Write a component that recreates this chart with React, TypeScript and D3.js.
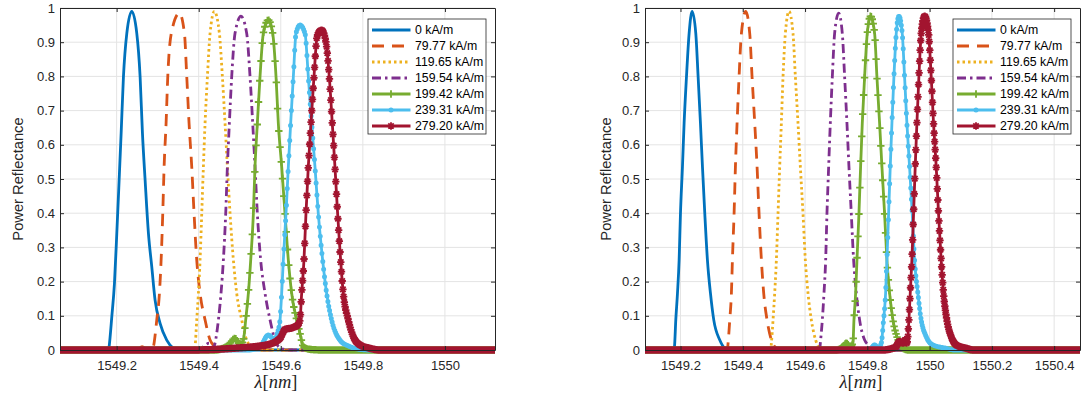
import * as d3 from "d3";
import { useEffect, useRef } from "react";

type Pt = [number, number];

const labels = ["0 kA/m", "79.77 kA/m", "119.65 kA/m", "159.54 kA/m", "199.42 kA/m", "239.31 kA/m", "279.20 kA/m"];
const colors = ["#0072BD", "#D95319", "#EDB120", "#7E2F8E", "#77AC30", "#4DBEEE", "#A2142F"];
const dashes = [null, "12,8", "2.5,3", "9,4,2.5,4", null, null, null];
const markerKinds = [null, null, null, null, "plus", "dot", "star"];
const markerStep = [0, 0, 0, 0, 0.003, 0.002, 0.0017]; // nm between markers

const yTicks = [0, 0.1, 0.2, 0.3, 0.4, 0.5, 0.6, 0.7, 0.8, 0.9, 1];
const xTicksA = [1549.2, 1549.4, 1549.6, 1549.8, 1550];
const xTicksB = [1549.2, 1549.4, 1549.6, 1549.8, 1550, 1550.2, 1550.4];

// left panel
const a0: Pt[] = [[1549.06, 0], [1549.17, 0], [1549.1805, 0], [1549.1817, 0.01], [1549.1882, 0.097], [1549.1947, 0.195], [1549.2004, 0.341], [1549.2061, 0.497], [1549.211, 0.634], [1549.2166, 0.799], [1549.2248, 0.926], [1549.2369, 0.99], [1549.2491, 0.926], [1549.2572, 0.799], [1549.2629, 0.634], [1549.2694, 0.497], [1549.2775, 0.341], [1549.2856, 0.244], [1549.2937, 0.146], [1549.3059, 0.078], [1549.3221, 0.029], [1549.3384, 0.005], [1549.35, 0], [1550.13, 0]];
const a1: Pt[] = [[1549.06, 0], [1549.25, 0], [1549.262, 0.01], [1549.275, 0], [1549.286, 0], [1549.2897, 0.01], [1549.2978, 0.088], [1549.3043, 0.166], [1549.3084, 0.263], [1549.3124, 0.399], [1549.3157, 0.536], [1549.3205, 0.663], [1549.3246, 0.799], [1549.3332, 0.926], [1549.353, 0.985], [1549.3652, 0.926], [1549.3709, 0.799], [1549.3765, 0.663], [1549.383, 0.536], [1549.3887, 0.399], [1549.3952, 0.263], [1549.4033, 0.166], [1549.4155, 0.088], [1549.4277, 0.029], [1549.4398, 0.01], [1549.45, 0], [1550.13, 0]];
const a2: Pt[] = [[1549.06, 0], [1549.37, 0], [1549.38, 0.005], [1549.389, 0], [1549.3911, 0.01], [1549.3952, 0.088], [1549.3993, 0.166], [1549.4033, 0.263], [1549.4074, 0.399], [1549.4114, 0.536], [1549.4155, 0.663], [1549.4212, 0.799], [1549.4277, 0.926], [1549.4382, 0.99], [1549.4504, 0.926], [1549.4577, 0.799], [1549.4642, 0.663], [1549.4699, 0.536], [1549.4764, 0.399], [1549.4845, 0.263], [1549.4926, 0.166], [1549.5048, 0.088], [1549.517, 0.029], [1549.5332, 0.005], [1549.545, 0], [1550.13, 0]];
const a3: Pt[] = [[1549.06, 0], [1549.4, 0], [1549.41, 0.008], [1549.425, 0.02], [1549.436, 0.005], [1549.4398, 0.02], [1549.448, 0.088], [1549.4544, 0.166], [1549.4601, 0.263], [1549.4658, 0.399], [1549.4699, 0.536], [1549.4747, 0.663], [1549.4804, 0.799], [1549.4885, 0.926], [1549.5031, 0.976], [1549.5169, 0.926], [1549.5251, 0.799], [1549.5316, 0.663], [1549.5372, 0.536], [1549.5429, 0.399], [1549.551, 0.263], [1549.5616, 0.166], [1549.5738, 0.088], [1549.5859, 0.029], [1549.6, 0.005], [1549.62, 0], [1550.13, 0]];
const a4: Pt[] = [[1549.06, 0], [1549.44, 0], [1549.47, 0.012], [1549.4885, 0.034], [1549.5007, 0.015], [1549.5088, 0.029], [1549.5145, 0.088], [1549.521, 0.166], [1549.5267, 0.263], [1549.5332, 0.399], [1549.5372, 0.536], [1549.5429, 0.663], [1549.5494, 0.799], [1549.5575, 0.926], [1549.5697, 0.965], [1549.5803, 0.926], [1549.5884, 0.799], [1549.594, 0.663], [1549.6022, 0.536], [1549.6103, 0.399], [1549.6184, 0.263], [1549.6265, 0.166], [1549.6387, 0.088], [1549.6468, 0.049], [1549.6549, 0.01], [1549.67, 0.002], [1549.7, 0], [1550.13, 0]];
const a5: Pt[] = [[1549.06, 0], [1549.52, 0], [1549.5494, 0.01], [1549.5697, 0.044], [1549.5859, 0.029], [1549.5916, 0.049], [1549.5981, 0.088], [1549.6022, 0.166], [1549.6062, 0.263], [1549.6127, 0.399], [1549.6184, 0.536], [1549.6241, 0.663], [1549.6306, 0.799], [1549.6371, 0.926], [1549.6468, 0.95], [1549.659, 0.926], [1549.6671, 0.799], [1549.6752, 0.663], [1549.6833, 0.536], [1549.6914, 0.399], [1549.702, 0.263], [1549.7117, 0.166], [1549.7239, 0.088], [1549.7442, 0.029], [1549.7685, 0.01], [1549.7929, 0.002], [1549.82, 0], [1550.13, 0]];
const a6: Pt[] = [[1549.06, 0], [1549.38, 0], [1549.4845, 0.005], [1549.5656, 0.015], [1549.5981, 0.034], [1549.6103, 0.06], [1549.6306, 0.066], [1549.6427, 0.075], [1549.6468, 0.088], [1549.6509, 0.166], [1549.6565, 0.263], [1549.6614, 0.399], [1549.6671, 0.536], [1549.6736, 0.663], [1549.6809, 0.799], [1549.689, 0.92], [1549.6996, 0.935], [1549.7101, 0.9], [1549.7182, 0.799], [1549.7255, 0.663], [1549.732, 0.536], [1549.7385, 0.399], [1549.7458, 0.263], [1549.7523, 0.166], [1549.7645, 0.088], [1549.7767, 0.039], [1549.7929, 0.015], [1549.8172, 0.005], [1549.84, 0], [1550.13, 0]];

// right panel
const b0: Pt[] = [[1549.08, 0], [1549.15, 0], [1549.175, 0.003], [1549.179, 0], [1549.1807, 0.01], [1549.1849, 0.088], [1549.1903, 0.166], [1549.1956, 0.263], [1549.1999, 0.399], [1549.2063, 0.536], [1549.2116, 0.663], [1549.2192, 0.799], [1549.2277, 0.926], [1549.2373, 0.99], [1549.2491, 0.926], [1549.2566, 0.799], [1549.2641, 0.663], [1549.2705, 0.536], [1549.278, 0.399], [1549.2865, 0.263], [1549.2962, 0.166], [1549.3068, 0.088], [1549.3261, 0.029], [1549.3421, 0.005], [1549.355, 0], [1550.49, 0]];
const b1: Pt[] = [[1549.08, 0], [1549.34, 0], [1549.3505, 0], [1549.3528, 0.02], [1549.3582, 0.088], [1549.3635, 0.166], [1549.3667, 0.263], [1549.3721, 0.399], [1549.3764, 0.536], [1549.3817, 0.663], [1549.3881, 0.799], [1549.3956, 0.926], [1549.4095, 0.99], [1549.4223, 0.926], [1549.4298, 0.799], [1549.4384, 0.663], [1549.4459, 0.536], [1549.4523, 0.399], [1549.4598, 0.263], [1549.4672, 0.166], [1549.4779, 0.088], [1549.4919, 0.029], [1549.5079, 0.005], [1549.52, 0], [1550.49, 0]];
const b2: Pt[] = [[1549.08, 0], [1549.47, 0], [1549.49, 0], [1549.4919, 0.02], [1549.4972, 0.088], [1549.5025, 0.166], [1549.5079, 0.263], [1549.5132, 0.399], [1549.5186, 0.536], [1549.5239, 0.663], [1549.5293, 0.799], [1549.5368, 0.926], [1549.5485, 0.99], [1549.5613, 0.926], [1549.5689, 0.799], [1549.5774, 0.663], [1549.5849, 0.536], [1549.5934, 0.399], [1549.6009, 0.263], [1549.6095, 0.166], [1549.6202, 0.088], [1549.6341, 0.029], [1549.6469, 0.005], [1549.66, 0], [1550.49, 0]];
const b3: Pt[] = [[1549.08, 0], [1549.63, 0], [1549.647, 0], [1549.6491, 0.02], [1549.6555, 0.088], [1549.6608, 0.166], [1549.6662, 0.263], [1549.6704, 0.399], [1549.6758, 0.536], [1549.6811, 0.663], [1549.6876, 0.799], [1549.695, 0.926], [1549.7079, 0.985], [1549.7196, 0.926], [1549.7271, 0.799], [1549.7346, 0.663], [1549.741, 0.536], [1549.7485, 0.399], [1549.756, 0.263], [1549.7646, 0.166], [1549.7752, 0.088], [1549.7913, 0.029], [1549.802, 0.015], [1549.815, 0], [1550.49, 0]];
const b4: Pt[] = [[1549.08, 0], [1549.7, 0], [1549.72, 0.008], [1549.7326, 0.02], [1549.745, 0.01], [1549.7538, 0.02], [1549.7571, 0.088], [1549.7624, 0.166], [1549.7667, 0.263], [1549.7731, 0.399], [1549.7784, 0.536], [1549.7838, 0.663], [1549.7913, 0.799], [1549.7998, 0.926], [1549.8105, 0.976], [1549.8234, 0.926], [1549.8308, 0.799], [1549.8394, 0.663], [1549.8469, 0.536], [1549.8554, 0.399], [1549.8629, 0.263], [1549.8715, 0.166], [1549.8822, 0.088], [1549.895, 0.039], [1549.9036, 0.02], [1549.9143, 0.005], [1549.93, 0], [1550.49, 0]];
const b5: Pt[] = [[1549.08, 0], [1549.8, 0], [1549.815, 0.008], [1549.8234, 0.015], [1549.835, 0.006], [1549.8448, 0.02], [1549.8522, 0.088], [1549.8587, 0.166], [1549.8629, 0.263], [1549.8683, 0.399], [1549.8736, 0.536], [1549.879, 0.663], [1549.8854, 0.799], [1549.8929, 0.926], [1549.9014, 0.976], [1549.9121, 0.926], [1549.9196, 0.799], [1549.9271, 0.663], [1549.9356, 0.536], [1549.9442, 0.399], [1549.9517, 0.263], [1549.9624, 0.166], [1549.9731, 0.088], [1549.9891, 0.039], [1550.0105, 0.015], [1550.0533, 0.005], [1550.08, 0], [1550.49, 0]];
const b6: Pt[] = [[1549.08, 0], [1549.85, 0], [1549.89, 0.008], [1549.9036, 0.025], [1549.915, 0.02], [1549.922, 0.03], [1549.9271, 0.02], [1549.9335, 0.088], [1549.9378, 0.166], [1549.9431, 0.263], [1549.9485, 0.399], [1549.9538, 0.536], [1549.9592, 0.663], [1549.9656, 0.799], [1549.9731, 0.926], [1549.9838, 0.976], [1549.9966, 0.926], [1550.0052, 0.799], [1550.0126, 0.663], [1550.0212, 0.536], [1550.0287, 0.399], [1550.0372, 0.263], [1550.0447, 0.166], [1550.0554, 0.088], [1550.0693, 0.039], [1550.0854, 0.015], [1550.1175, 0.005], [1550.14, 0], [1550.49, 0]];

const panels = [
  { domain: [1549.062, 1550.122], left: 60, right: 495, ticks: xTicksA, series: [a0, a1, a2, a3, a4, a5, a6], legendX: 368, yLabelX: 22.5 },
  { domain: [1549.086, 1550.483], left: 645, right: 1080, ticks: xTicksB, series: [b0, b1, b2, b3, b4, b5, b6], legendX: 953, yLabelX: 610.5 },
];

const TOP = 8;
const BOTTOM = 350;
const FONT = "'Liberation Sans', Arial, Helvetica, sans-serif";
const AX = "#262626";
const LW = 2.8;

const markerPath = (kind: string, x: number, y: number) => {
  if (kind === "plus") {
    const r = 3.7;
    return `M${x - r},${y}h${2 * r}M${x},${y - r}v${2 * r}`;
  }
  if (kind === "star") {
    const r = 3.7, d = 2.7;
    return `M${x - r},${y}h${2 * r}M${x},${y - r}v${2 * r}M${x - d},${y - d}l${2 * d},${2 * d}M${x - d},${y + d}l${2 * d},${-2 * d}`;
  }
  const r = 2.5;
  return `M${x - r},${y}a${r},${r} 0 1,0 ${2 * r},0a${r},${r} 0 1,0 ${-2 * r},0`;
};

const styleMarker = (sel: any, kind: string, color: string) => {
  if (kind === "dot") sel.attr("fill", color).attr("stroke", "none");
  else sel.attr("fill", "none").attr("stroke", color).attr("stroke-width", 1.8);
};

export default function App() {
  const ref = useRef<SVGSVGElement>(null);

  useEffect(() => {
    const svg = d3.select(ref.current);
    svg.selectAll("*").remove();

    panels.forEach((p, pi) => {
      const x = d3.scaleLinear().domain(p.domain).range([p.left, p.right]);
      const y = d3.scaleLinear().domain([0, 1]).range([BOTTOM, TOP]);
      const g = svg.append("g");
      const clipId = `plotclip${pi}`;
      g.append("clipPath").attr("id", clipId).append("rect")
        .attr("x", p.left).attr("y", TOP - 4).attr("width", p.right - p.left).attr("height", BOTTOM - TOP + 10);

      // grid
      const grid = g.append("g").attr("stroke", "#e4e4e4").attr("stroke-width", 1);
      grid.selectAll("line.v").data(p.ticks).join("line").attr("class", "v")
        .attr("x1", (d) => x(d)).attr("x2", (d) => x(d)).attr("y1", TOP).attr("y2", BOTTOM);
      grid.selectAll("line.h").data(yTicks).join("line").attr("class", "h")
        .attr("x1", p.left).attr("x2", p.right).attr("y1", (d) => y(d)).attr("y2", (d) => y(d));

      // curves
      const plot = g.append("g").attr("clip-path", `url(#${clipId})`);
      const line = d3.line<Pt>().x((d) => x(d[0])).y((d) => y(d[1])).curve(d3.curveMonotoneX);
      p.series.forEach((data, si) => {
        const path = plot.append("path").attr("d", line(data))
          .attr("fill", "none").attr("stroke", colors[si]).attr("stroke-width", LW)
          .attr("stroke-linejoin", "round");
        if (dashes[si]) path.attr("stroke-dasharray", dashes[si]);
        const kind = markerKinds[si];
        if (kind) {
          const node = path.node() as SVGPathElement;
          const L = node.getTotalLength();
          const stepPx = x(p.domain[0] + markerStep[si]) - x(p.domain[0]);
          let lastX = -Infinity;
          let d = "";
          for (let s = 0; s <= L; s += 0.3) {
            const q = node.getPointAtLength(s);
            if (q.x - lastX >= stepPx) {
              d += markerPath(kind, q.x, q.y);
              lastX = q.x;
            }
          }
          styleMarker(plot.append("path").attr("d", d), kind, colors[si]);
        }
      });

      // axes (ticks inward, box)
      const fmt = (d: any) => String(d);
      const bottom = g.append("g").attr("transform", `translate(0,${BOTTOM})`)
        .call(d3.axisBottom(x).tickValues(p.ticks).tickSize(-4).tickSizeOuter(0).tickPadding(11.2).tickFormat(fmt));
      const top = g.append("g").attr("transform", `translate(0,${TOP})`)
        .call(d3.axisTop(x).tickValues(p.ticks).tickSize(-4).tickSizeOuter(0).tickFormat(() => ""));
      const left = g.append("g").attr("transform", `translate(${p.left},0)`)
        .call(d3.axisLeft(y).tickValues(yTicks).tickSize(-4).tickSizeOuter(0).tickPadding(5).tickFormat(fmt));
      const right = g.append("g").attr("transform", `translate(${p.right},0)`)
        .call(d3.axisRight(y).tickValues(yTicks).tickSize(-4).tickSizeOuter(0).tickFormat(() => ""));
      [bottom, top, left, right].forEach((a) => {
        a.attr("font-family", FONT).attr("font-size", 13);
        a.selectAll("path.domain").attr("stroke", AX).attr("stroke-width", 1);
        a.selectAll(".tick line").attr("stroke", AX).attr("stroke-width", 1);
        a.selectAll(".tick text").attr("fill", AX);
      });

      // axis titles
      g.append("text")
        .attr("transform", `translate(${p.yLabelX},${(TOP + BOTTOM) / 2}) rotate(-90)`)
        .attr("text-anchor", "middle").attr("font-family", FONT).attr("font-size", 14.7).attr("fill", AX)
        .text("Power Reflectance");
      const xl = g.append("text").attr("x", (p.left + p.right) / 2 - 1.5).attr("y", 388)
        .attr("text-anchor", "middle").attr("font-family", "'Liberation Serif', 'DejaVu Serif', serif")
        .attr("font-size", 18.5).attr("fill", AX);
      xl.append("tspan").attr("font-style", "italic").text("λ");
      xl.append("tspan").text("[");
      xl.append("tspan").attr("font-style", "italic").text("nm");
      xl.append("tspan").text("]");

      // legend
      const lg = g.append("g").attr("transform", `translate(${p.legendX},19)`);
      lg.append("rect").attr("x", 0).attr("y", 0).attr("width", 118).attr("height", 115)
        .attr("fill", "#fff").attr("stroke", AX).attr("stroke-width", 0.8);
      labels.forEach((lab, i) => {
        const ry = 11 + i * 16;
        const ln = lg.append("line").attr("x1", 4).attr("x2", 42.5).attr("y1", ry).attr("y2", ry)
          .attr("stroke", colors[i]).attr("stroke-width", LW);
        if (dashes[i]) ln.attr("stroke-dasharray", dashes[i]);
        const kind = markerKinds[i];
        if (kind) styleMarker(lg.append("path").attr("d", markerPath(kind, 23, ry)), kind, colors[i]);
        lg.append("text").attr("x", 47).attr("y", ry).attr("dy", "0.36em")
          .attr("font-family", FONT).attr("font-size", 12.3).attr("fill", "#000").text(lab);
      });
    });
  }, []);

  return (
    <svg
      ref={ref}
      width={1083}
      height={400}
      viewBox="0 0 1083 400"
      style={{ position: "absolute", left: 0, top: 0, background: "#fff", display: "block" }}
    />
  );
}
